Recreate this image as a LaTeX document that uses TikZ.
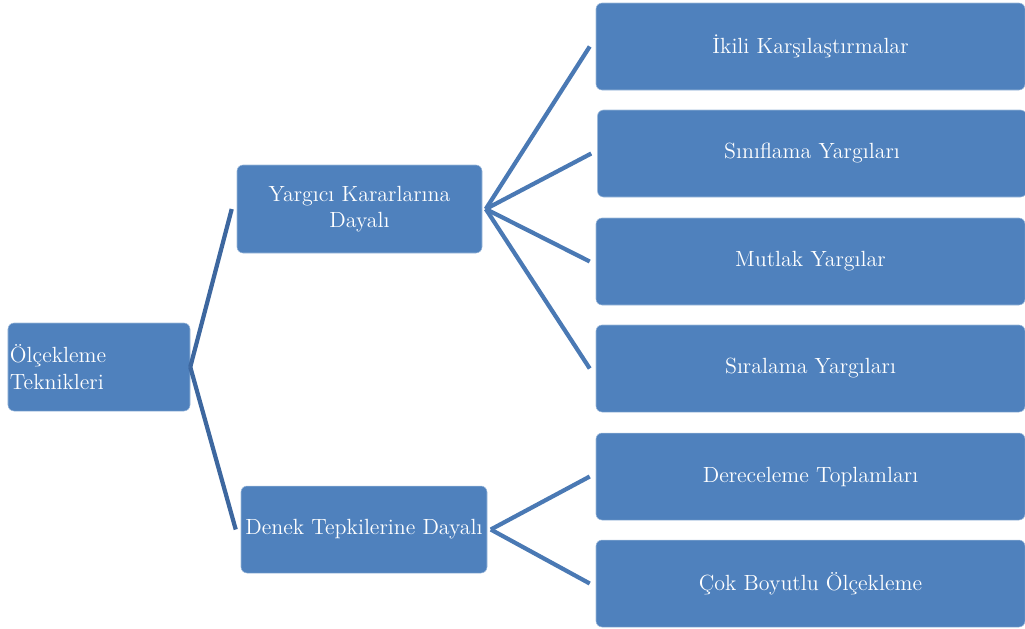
\documentclass[tikz,border=0pt]{standalone}
\usepackage{tikz}
\definecolor{kutumavi}{HTML}{4F81BD}
\definecolor{koyumavi}{HTML}{3D679F}
\definecolor{dalmavi}{HTML}{4A79B4}

\begin{document}
\begin{tikzpicture}[x=0.2mm, y=-0.2mm,
    kutu/.style={fill=kutumavi, draw=kutumavi!55!white, line width=0.3pt,
        rounded corners=1.2mm, text=white, align=center, inner sep=1pt,
        font=\fontsize{12.5}{15}\selectfont},
    dal/.style={line width=2.4pt}]
    \useasboundingbox (0,0) rectangle (1025,628);
    % kok ve ara kutular
    \node[kutu, minimum width=36.4mm, minimum height=17.6mm, text width=35.6mm, align=left] (kok) at (99,367) {Ölçekleme\\Teknikleri};
    \node[kutu, minimum width=49mm, minimum height=17.6mm] (yar) at (359.5,209) {Yargıcı Kararlarına\\Dayalı};
    \node[kutu, minimum width=49.2mm, minimum height=17.4mm] (den) at (364,529.5) {Denek Tepkilerine Dayalı};
    % sag kutular
    \foreach \n/\x/\y/\t in {k1/810.5/46.5/{İkili Karşılaştırmalar}, k2/812/153.5/{Sınıflama Yargıları},
        k3/810.5/261.5/{Mutlak Yargılar}, k4/810.5/368.5/{Sıralama Yargıları},
        k5/810.5/476.5/{Dereceleme Toplamları}, k6/810.5/583.5/{Çok Boyutlu Ölçekleme}}{
    \node[kutu, minimum width=85.8mm, minimum height=17.4mm] (\n) at (\x,\y) {\t};
    }
    % baglantilar
    \foreach \k in {yar, den}{
    \draw[dal, koyumavi] (kok.east) -- ([xshift=-1mm]\k.west);
    }
    \foreach \k in {k1, k2, k3, k4}{
    \draw[dal, dalmavi] ([xshift=2pt]yar.east) -- ([xshift=-1.2mm]\k.west);
    }
    \foreach \k in {k5, k6}{
    \draw[dal, dalmavi] ([xshift=2pt]den.east) -- ([xshift=-1.2mm]\k.west);
    }
\end{tikzpicture}
\end{document}
